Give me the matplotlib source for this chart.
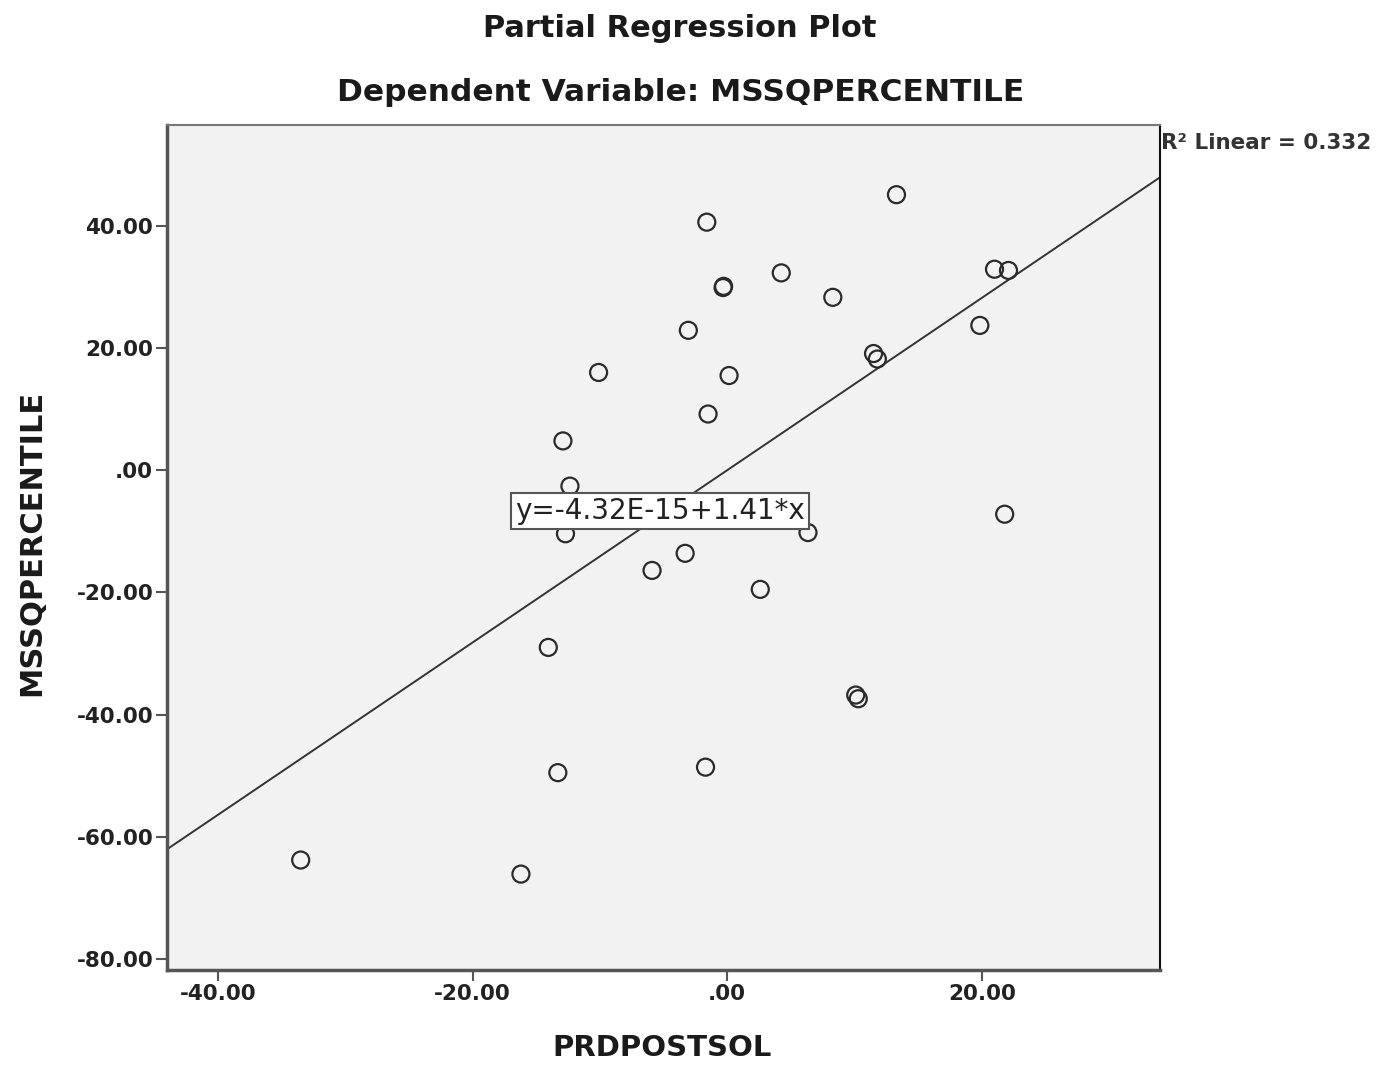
import numpy as np
from matplotlib import pyplot as plt

# residualised predictor / outcome pairs
prdpostsol = [-33.5, -16.2, -14.05, -13.3, -12.9, -12.35, -12.7, -10.1,
              -5.9, -3.3, -3.05, -1.6, -1.5, -1.7, -0.32, -0.28, 0.15,
              2.6, 4.25, 6.35, 8.3, 10.1, 10.3, 11.5, 11.8, 13.3,
              19.85, 21.0, 22.1, 21.8]
mssq_pct = [-63.8, -66.1, -29.0, -49.5, 4.8, -2.6, -10.4, 16.0,
            -16.4, -13.6, 22.9, 40.6, 9.2, -48.6, 29.9, 30.1, 15.5,
            -19.5, 32.3, -10.2, 28.3, -36.8, -37.4, 19.1, 18.2, 45.1,
            23.7, 32.9, 32.7, -7.2]

intercept = -4.32e-15
slope = 1.41
r_sq = 0.332

xticks = [-40, -20, 0, 20]
xticklabels = ['-40.00', '-20.00', '.00', '20.00']
yticks = [40, 20, 0, -20, -40, -60, -80]
yticklabels = ['40.00', '20.00', '.00', '-20.00', '-40.00', '-60.00', '-80.00']

fig = plt.figure(figsize=(13.77, 10.65), dpi=100)
ax = fig.add_axes([0.1213, 0.0892, 0.7211, 0.7934])
ax.set_facecolor('#f2f2f2')

xlo, xhi = -44.0, 34.0
ax.set_xlim(xlo, xhi)
ax.set_ylim(-81.8, 56.5)

# fit line across the whole x range
xl = np.array([xlo, xhi])
ax.plot(xl, intercept + slope * xl, color='#333333', lw=1.4, zorder=2)

ax.scatter(prdpostsol, mssq_pct, s=150, facecolors='none',
           edgecolors='#2a2a2a', linewidths=1.6, zorder=3)

ax.text(-5.3, -6.65, 'y=-4.32E-15+1.41*x', fontsize=20, ha='center',
        va='center', color='#222222', zorder=5,
        bbox=dict(boxstyle='square,pad=0.15', fc='white', ec='#555555', lw=1.5))

ax.set_xticks(xticks)
ax.set_xticklabels(xticklabels)
ax.set_yticks(yticks)
ax.set_yticklabels(yticklabels)
ax.tick_params(direction='out', length=8, width=1.5, color='#555555',
               labelsize=15.5, labelcolor='#222222', pad=2)
for lab in ax.get_xticklabels() + ax.get_yticklabels():
    lab.set_fontweight('bold')

for side in ['top', 'right']:
    ax.spines[side].set_color('#777777')
    ax.spines[side].set_linewidth(1.5)
for side in ['left', 'bottom']:
    ax.spines[side].set_color('#555555')
    ax.spines[side].set_linewidth(2.5)
ax.spines['right'].set_color('#111111')

fig.text(0.494, 0.9737, 'Partial Regression Plot', ha='center', va='center',
         fontsize=22, fontweight='bold', color='#1a1a1a')
fig.text(0.494, 0.9127, 'Dependent Variable: MSSQPERCENTILE', ha='center',
         va='center', fontsize=22.5, fontweight='bold', color='#1a1a1a')
fig.text(0.481, 0.016, 'PRDPOSTSOL', ha='center', va='center',
         fontsize=21, fontweight='bold', color='#1a1a1a')
fig.text(0.023, 0.49, 'MSSQPERCENTILE', ha='center', va='center',
         rotation=90, fontsize=22, fontweight='bold', color='#1a1a1a')
fig.text(0.843, 0.866, 'R\u00b2 Linear = %.3f' % r_sq, ha='left', va='center',
         fontsize=15.5, fontweight='bold', color='#333333')

fig.savefig('out.png', dpi=100)
